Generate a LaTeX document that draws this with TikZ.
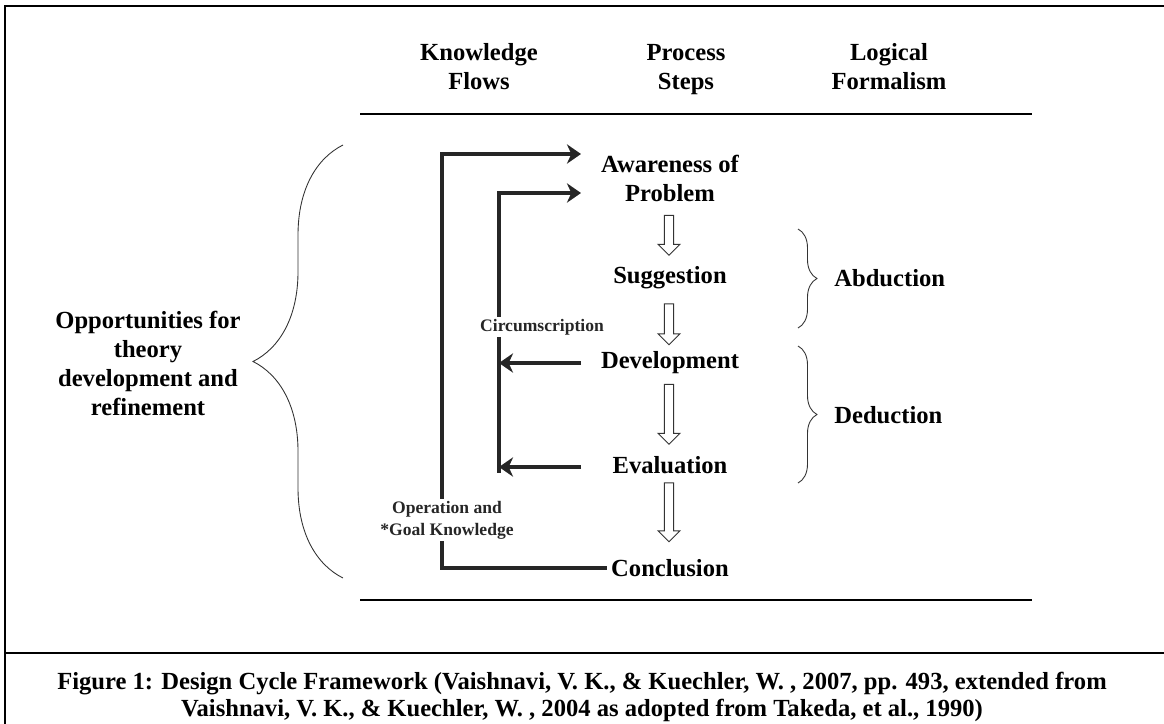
\documentclass[tikz,border=0pt]{standalone}
\usepackage{fontspec}
\setmainfont{Liberation Serif}
\usepackage{tikz}
\usetikzlibrary{arrows.meta,positioning,shapes.arrows,decorations.pathreplacing,calc}
\tikzset{
  head/.style={font=\fontsize{14}{16.5}\selectfont\bfseries,align=center,anchor=base},
  stepnode/.style={font=\fontsize{14}{16.5}\selectfont\bfseries,align=center,inner sep=2pt},
  tag/.style={font=\fontsize{10}{12.5}\selectfont\bfseries,align=center,text=black!85,inner sep=1pt},
  logic/.style={font=\fontsize{14}{16.5}\selectfont\bfseries,anchor=west,inner sep=0pt},
  flow/.style={line width=2.2pt,black!85,-{Stealth[length=8pt,width=11pt,inset=2.5pt]}},
  flowline/.style={line width=2.2pt,black!85},
  down/.style={draw,single arrow,shape border rotate=270,minimum width=0.44cm,
               single arrow head extend=0.12cm,inner sep=0.08cm,
               line width=0.5pt,draw=black!80},
  rule/.style={line width=0.6pt},
  brc/.style={decorate,line width=0.5pt,draw=black!80},
}
\begin{document}
\begin{tikzpicture}[x=0.02cm,y=-0.02cm]
  \useasboundingbox (0,0) rectangle (1164,724);
  % frame and caption
  \draw[line width=1.2pt] (1164,6) -- (5,6) -- (5,724);
  \draw[line width=1.2pt] (5,653) -- (1164,653);
  \node[font=\fontsize{14}{15.4}\selectfont\bfseries,align=center] (cap) at (582,697)
    {Figure 1: Design Cycle Framework (Vaishnavi, V. K., \& Kuechler, W. , 2007, pp. 493, extended from\\
     Vaishnavi, V. K., \& Kuechler, W. , 2004 as adopted from Takeda, et al., 1990)};

  % column heads
  \node[head] (hkf) at (479,89) {Knowledge\\Flows};
  \node[head] (hps) at (686,89) {Process\\Steps};
  \node[head] (hlf) at (889,89) {Logical\\Formalism};
  \draw[rule] (360,114) -- (1032,114);
  \draw[rule] (360,600) -- (1032,600);

  % process steps
  \node[stepnode] (aw) at (670,164) {Awareness of};
  \node[stepnode] (pb) at (670,193) {Problem};
  \node[stepnode] (sg) at (670,278) {Suggestion};
  \node[stepnode] (dv) at (670,363) {Development};
  \node[stepnode] (ev) at (670,465) {Evaluation};
  \node[stepnode] (cl) at (670,568) {Conclusion};

  \node[down,minimum height=0.8cm]  (a1) at (669,233) {};
  \node[down,minimum height=0.82cm] (a2) at (669,322) {};
  \node[down,minimum height=1.2cm]  (a3) at (669,412) {};
  \node[down,minimum height=1.18cm] (a4) at (669,510) {};

  % knowledge flows
  \coordinate (outx) at (442,0);
  \coordinate (inx) at (499,0);
  \coordinate (tipx) at (581,0);
  \node[tag] (circ) at (542,327) {Circumscription};
  \node[tag] (ogk) at (447,520) {Operation and\\*Goal Knowledge};

  \draw[flow] (ogk.north -| outx) |- ([yshift=0.2cm]aw.west -| tipx);
  \draw[flowline] (ogk.south -| outx) |- (cl.west);
  \draw[flow] (circ.north -| inx) |- (pb.west -| tipx);
  \draw[flowline] (circ.south -| inx) -- ([yshift=-0.16cm]ev.west -| inx);
  \draw[flow] (dv.west -| tipx) -- (dv.west -| inx);
  \draw[flow] ([yshift=-0.04cm]ev.west -| tipx) -- ([yshift=-0.04cm]ev.west -| inx);

  % braces
  \draw[brc,decoration={brace,amplitude=1.8cm}] (343,578) -- (343,145);
  \node[head,anchor=center] (opp) at (148,363) {Opportunities for\\theory\\development and\\refinement};
  \draw[brc,decoration={brace,amplitude=0.38cm}] (798,229) -- (798,328);
  \draw[brc,decoration={brace,amplitude=0.38cm}] (798,346) -- (798,483);
  \node[logic] (abd) at (834,278) {Abduction};
  \node[logic] (ded) at (834,415) {Deduction};
\end{tikzpicture}
\end{document}
